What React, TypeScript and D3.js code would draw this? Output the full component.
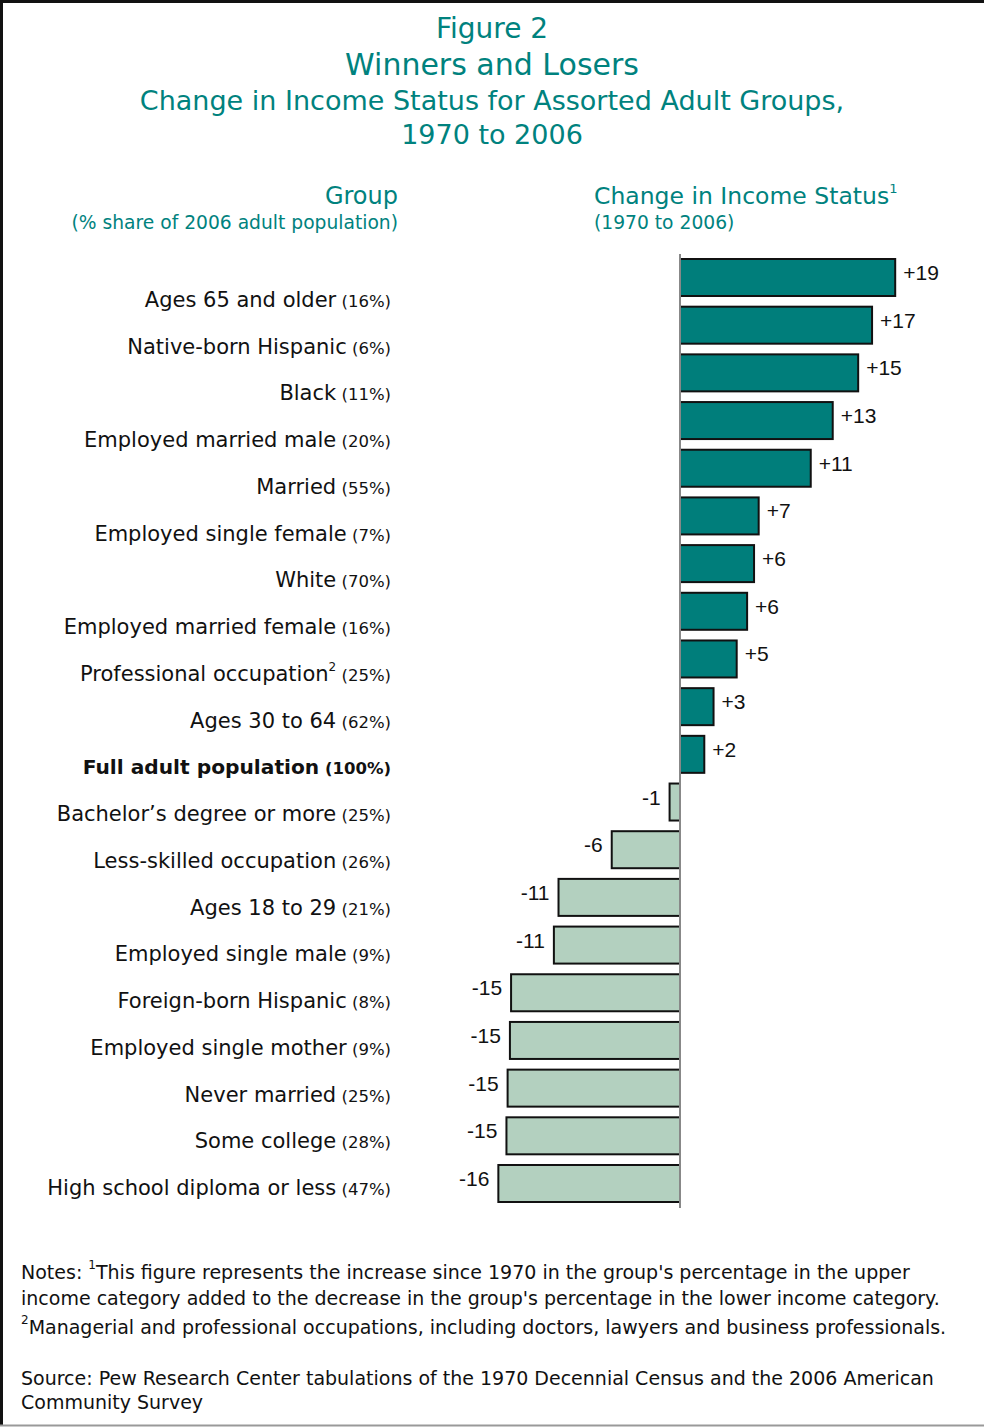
import React from "react";
import * as d3 from "d3";

// Groups, shares of the 2006 adult population, and change in income status (1970 to 2006)
const groups = [
  "Ages 65 and older",
  "Native-born Hispanic",
  "Black",
  "Employed married male",
  "Married",
  "Employed single female",
  "White",
  "Employed married female",
  "Professional occupation",
  "Ages 30 to 64",
  "Full adult population",
  "Bachelor\u2019s degree or more",
  "Less-skilled occupation",
  "Ages 18 to 29",
  "Employed single male",
  "Foreign-born Hispanic",
  "Employed single mother",
  "Never married",
  "Some college",
  "High school diploma or less",
];
const shares = [
  "16%", "6%", "11%", "20%", "55%", "7%", "70%", "16%", "25%", "62%",
  "100%", "25%", "26%", "21%", "9%", "8%", "9%", "25%", "28%", "47%",
];
const changes = [
  18.6, 16.6, 15.4, 13.2, 11.3, 6.8, 6.4, 5.8, 4.9, 2.9,
  2.1, -0.9, -5.9, -10.5, -10.9, -14.6, -14.7, -14.9, -15.0, -15.7,
];
const superscripts: Record<string, string> = { "Professional occupation": "2" };
const boldGroup = "Full adult population";

const titleLines = [
  { text: "Figure 2", size: 28 },
  { text: "Winners and Losers", size: 30 },
  { text: "Change in Income Status for Assorted Adult Groups,", size: 27 },
  { text: "1970 to 2006", size: 27 },
];

const W = 984;
const H = 1427;
const TEAL = "#00827e";
const POS = "#007e7b";
const NEG = "#b3d0bf";
const FONT = "'DejaVu Sans', sans-serif";
const NUM_FONT = "'Liberation Sans', Arial, sans-serif";

export default function App() {
  const pxPerUnit = 11.57;
  const zeroX = 680;
  const x = d3
    .scaleLinear()
    .domain([-17, 20])
    .range([zeroX - 17 * pxPerUnit, zeroX + 20 * pxPerUnit]);

  const yBar = d3.scaleBand<string>().domain(groups).range([259, 1202]).paddingInner(0.224);
  const yLabel = d3.scalePoint<string>().domain(groups).range([299, 1187]);
  const fmt = d3.format("+.0f");

  const data = groups.map((g, i) => ({ group: g, share: shares[i], value: changes[i] }));

  return (
    <svg
      width={W}
      height={H}
      style={{ position: "absolute", left: 0, top: 0, background: "#fff" }}
      fontFamily={FONT}
    >
      <rect x={0} y={0} width={W} height={H} fill="#fff" />
      {/* frame */}
      <line x1={0} x2={W} y1={1.5} y2={1.5} stroke="#111" strokeWidth={3} />
      <line x1={1.5} x2={1.5} y1={0} y2={1425} stroke="#111" strokeWidth={3} />
      <line x1={0} x2={W} y1={1425.5} y2={1425.5} stroke="#999" strokeWidth={2} />

      {/* title */}
      {titleLines.map((t, i) => (
        <text
          key={t.text}
          x={492}
          y={[38, 75, 110, 144][i]}
          textAnchor="middle"
          fill={TEAL}
          fontSize={t.size}
        >
          {t.text}
        </text>
      ))}

      {/* column headers */}
      <text x={398} y={204} textAnchor="end" fill={TEAL} fontSize={24}>
        Group
      </text>
      <text x={398} y={229} textAnchor="end" fill={TEAL} fontSize={18.7}>
        (% share of 2006 adult population)
      </text>
      <text x={594} y={204} fill={TEAL} fontSize={23.5}>
        Change in Income Status
        <tspan fontSize={13} dy={-11}>1</tspan>
      </text>
      <text x={594} y={229} fill={TEAL} fontSize={18.7}>
        (1970 to 2006)
      </text>

      {/* group labels */}
      {data.map((d) => {
        const bold = d.group === boldGroup;
        return (
          <text
            key={d.group}
            x={391}
            y={(yLabel(d.group) ?? 0) + 8}
            textAnchor="end"
            fill="#111"
            fontWeight={bold ? "bold" : "normal"}
          >
            <tspan fontSize={bold ? 20.2 : 21}>{d.group}</tspan>
            {superscripts[d.group] ? (
              <tspan fontSize={12} dy={-10}>
                {superscripts[d.group]}
              </tspan>
            ) : null}
            <tspan fontSize={16.5} dy={superscripts[d.group] ? 10 : 0}>
              {" (" + d.share + ")"}
            </tspan>
          </text>
        );
      })}

      {/* bars */}
      {data.map((d) => {
        const y0 = yBar(d.group) ?? 0;
        const x0 = x(Math.min(0, d.value));
        const x1 = x(Math.max(0, d.value));
        return (
          <rect
            key={d.group}
            x={x0}
            y={y0}
            width={x1 - x0}
            height={yBar.bandwidth()}
            fill={d.value >= 0 ? POS : NEG}
            stroke="#111"
            strokeWidth={2}
          />
        );
      })}

      {/* zero axis */}
      <line x1={x(0)} x2={x(0)} y1={254} y2={1208} stroke="#888" strokeWidth={2} />

      {/* value labels, set slightly above each bar's centre */}
      {data.map((d) => {
        const pos = d.value >= 0;
        const cy = (yBar(d.group) ?? 0) + yBar.bandwidth() / 2;
        return (
          <text
            key={d.group}
            x={pos ? x(d.value) + 8 : x(d.value) - 9}
            y={cy + 2.5}
            textAnchor={pos ? "start" : "end"}
            fontFamily={NUM_FONT}
            fontSize={21}
            fill="#111"
          >
            {fmt(d.value).replace("\u2212", "-")}
          </text>
        );
      })}

      {/* notes */}
      <g fill="#111" fontSize={19}>
        <text x={21} y={1279}>
          {"Notes: "}
          <tspan fontSize={12} dy={-10}>1</tspan>
          <tspan dy={10}>
            This figure represents the increase since 1970 in the group's percentage in the upper
          </tspan>
        </text>
        <text x={21} y={1305}>
          income category added to the decrease in the group's percentage in the lower income category.
        </text>
        <text x={21} y={1334}>
          <tspan fontSize={12} dy={-10}>2</tspan>
          <tspan dy={10}>
            Managerial and professional occupations, including doctors, lawyers and business professionals.
          </tspan>
        </text>
        <text x={21} y={1385}>
          Source: Pew Research Center tabulations of the 1970 Decennial Census and the 2006 American
        </text>
        <text x={21} y={1409}>
          Community Survey
        </text>
      </g>
    </svg>
  );
}
